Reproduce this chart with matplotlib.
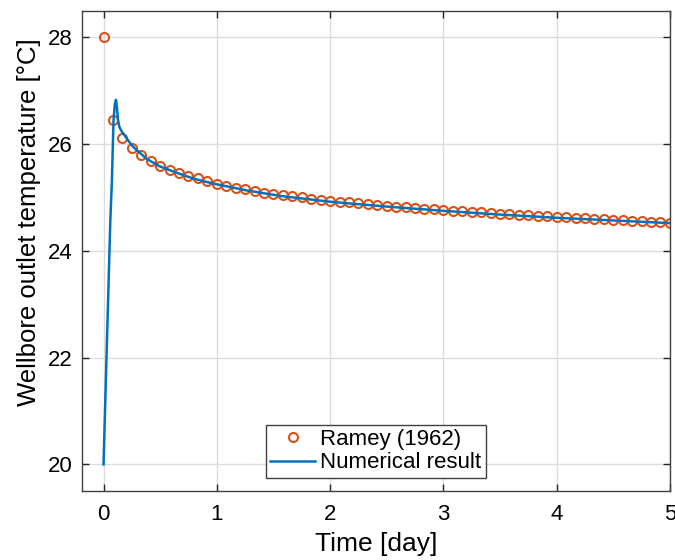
import numpy as np
import matplotlib
matplotlib.use("Agg")
import matplotlib.pyplot as plt

plt.rcParams['font.family'] = ['Liberation Sans', 'DejaVu Sans']

# Ramey (1962) analytical solution, sampled every 2 hours over 5 days
ramey_t = np.linspace(0, 5, 61)
ramey_T = [
    28.00, 26.45, 26.12, 25.92, 25.79, 25.68, 25.59, 25.52, 25.46, 25.41, 25.37, 25.31, 25.25,
    25.21, 25.18, 25.15, 25.12, 25.09, 25.07, 25.05, 25.02, 25.00, 24.98, 24.96, 24.94,
    24.92, 24.91, 24.89, 24.88, 24.86, 24.85, 24.83, 24.82, 24.80, 24.79, 24.78, 24.76,
    24.75, 24.74, 24.73, 24.72, 24.71, 24.70, 24.69, 24.68, 24.67, 24.66, 24.65, 24.64,
    24.63, 24.62, 24.61, 24.60, 24.59, 24.585, 24.575, 24.565, 24.555, 24.545, 24.54, 24.53,
]

# numerical model output
num_t = [0.0, 0.03, 0.06, 0.074, 0.088, 0.10, 0.11, 0.118, 0.128, 0.14, 0.16, 0.18, 0.22,
         0.265, 0.33, 0.383, 0.5, 0.6, 0.677, 0.8, 0.97, 1.27, 1.56, 2.0, 2.5, 3.0, 3.5,
         4.0, 4.5, 5.0]
num_T = [20.0, 22.3, 24.57, 25.32, 26.44, 26.75, 26.83, 26.7, 26.45, 26.32, 26.24, 26.18, 26.06,
         25.94, 25.82, 25.72, 25.58, 25.50, 25.44, 25.35, 25.26, 25.13, 25.03, 24.92, 24.83,
         24.75, 24.68, 24.62, 24.57, 24.52]

fig = plt.figure(figsize=(6.75, 5.6), dpi=100)
ax = fig.add_axes([0.1215, 0.123, 0.871, 0.858])

ax.plot(ramey_t, ramey_T, 'o', mfc='none', mec='#D95319', mew=1.5, ms=6.5,
        label='Ramey (1962)')
ax.plot(num_t, num_T, '-', color='#0072BD', lw=1.8, label='Numerical result')

ax.set_xlim(-0.19, 5)
ax.set_ylim(19.5, 28.5)
ax.set_xticks([0, 1, 2, 3, 4, 5])
ax.set_yticks([20, 22, 24, 26, 28])
ax.grid(True, color='#DCDCDC', lw=1)
ax.set_axisbelow(True)
ax.tick_params(direction='in', top=True, right=True, labelsize=16, colors='#262626',
               length=5, width=1, labelcolor='black')
ax.tick_params(axis='x', pad=9)
ax.tick_params(axis='y', pad=7)
for s in ax.spines.values():
    s.set_color('#404040')
    s.set_linewidth(1)

ax.set_xlabel('Time [day]', fontsize=19)
ax.set_ylabel('Wellbore outlet temperature [°C]', fontsize=18.5)
ax.xaxis.set_label_coords(0.5, -0.085)
ax.yaxis.set_label_coords(-0.07, 0.56)

leg = ax.legend(loc='lower center', fontsize=16, fancybox=False, framealpha=1,
                edgecolor='#404040', borderaxespad=0.6, handlelength=2.0,
                borderpad=0.2, labelspacing=0.1, handletextpad=0.25)
leg.get_frame().set_linewidth(1)

fig.savefig('out.png', dpi=100)
